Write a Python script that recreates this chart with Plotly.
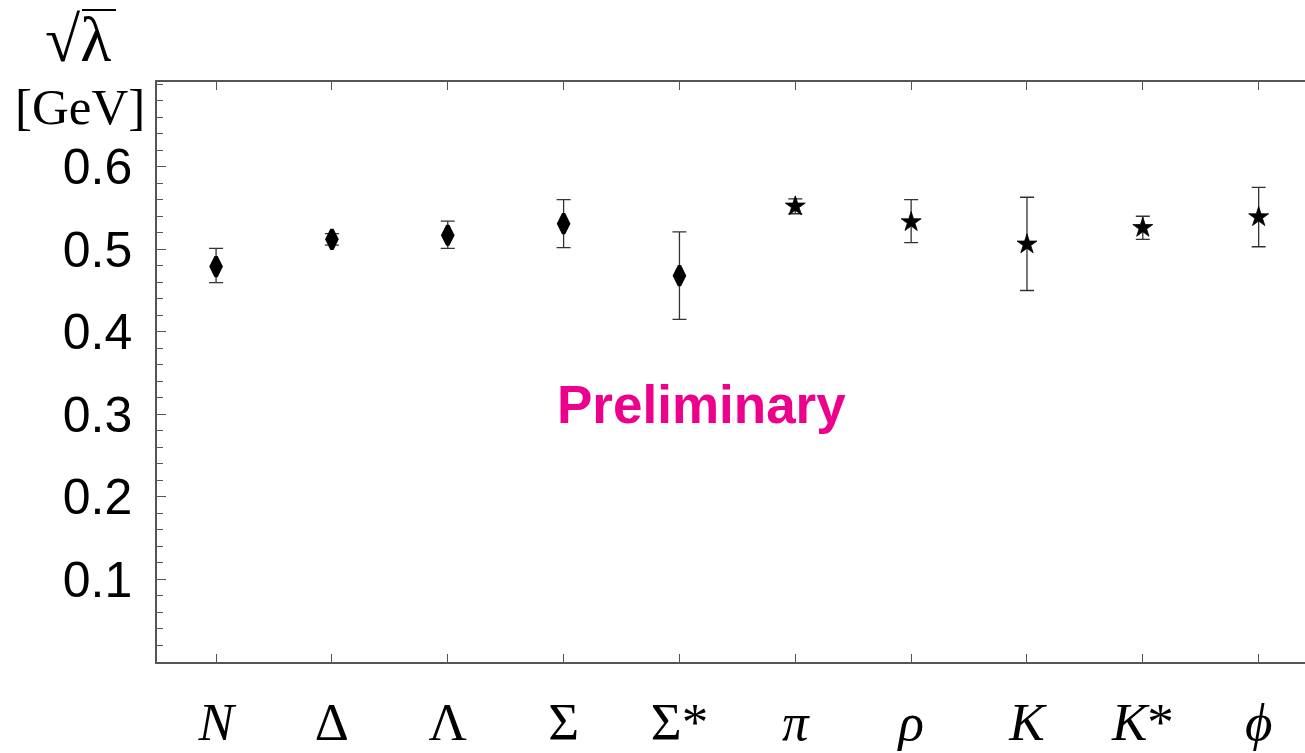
import plotly.graph_objects as go

categories = ["N", "Delta", "Lambda", "Sigma", "Sigma*", "pi", "rho", "K", "K*", "phi"]
tick_labels = ["<i>N</i>", "Δ", "Λ", "Σ", "Σ*", "<i>π</i>", "<i>ρ</i>", "<i>K</i>", "<i>K</i>*", "<i>ϕ</i>"]
baryons = ["N", "Delta", "Lambda", "Sigma", "Sigma*"]
mesons = ["pi", "rho", "K", "K*", "phi"]

sqrt_lambda = [0.479, 0.512, 0.517, 0.531, 0.468, 0.552, 0.533, 0.506, 0.526, 0.539]
upper = [0.501, 0.519, 0.534, 0.560, 0.521, 0.561, 0.560, 0.563, 0.540, 0.575]
lower = [0.4595, 0.505, 0.501, 0.502, 0.415, 0.543, 0.508, 0.450, 0.512, 0.503]

y_tickvals = [0.1, 0.2, 0.3, 0.4, 0.5, 0.6]
y_ticktext = ["0.1", "0.2", "0.3", "0.4", "0.5", "0.6"]

W, H = 1305, 753
L, R, T, B = 157, 0, 82, 91


def subset(names):
    idx = [categories.index(n) for n in names]
    xs = [categories[i] for i in idx]
    ys = [sqrt_lambda[i] for i in idx]
    up = [upper[i] - sqrt_lambda[i] for i in idx]
    dn = [sqrt_lambda[i] - lower[i] for i in idx]
    return xs, ys, up, dn


fig = go.Figure()
err_style = dict(type="data", symmetric=False, color="#333333", thickness=1.3, width=7)

xb, yb, ub, db = subset(baryons)
fig.add_trace(go.Scatter(
    x=xb, y=yb, mode="markers",
    marker=dict(symbol="diamond-tall", size=14, color="black", line=dict(color="black", width=3.5)),
    error_y=dict(array=ub, arrayminus=db, **err_style),
    showlegend=False,
))
xm, ym, um, dm = subset(mesons)
fig.add_trace(go.Scatter(
    x=xm, y=ym, mode="markers",
    marker=dict(symbol="star", size=15, color="black", line=dict(color="black", width=0.8)),
    error_y=dict(array=um, arrayminus=dm, **err_style),
    showlegend=False,
))

axis_color = "#555555"
fig.update_xaxes(
    type="category", categoryorder="array", categoryarray=categories,
    tickvals=categories, ticktext=tick_labels,
    range=[-0.51, 9.40],
    showline=True, linecolor=axis_color, linewidth=1.5, mirror="ticks",
    ticks="inside", ticklen=8, tickwidth=1.2, tickcolor=axis_color,
    tickfont=dict(family="Liberation Serif", size=53, color="black"),
    ticklabelstandoff=13, automargin=False,
    showgrid=False, zeroline=False,
)
fig.update_yaxes(
    range=[0, 0.7026],
    tickvals=y_tickvals, ticktext=y_ticktext,
    showline=True, linecolor=axis_color, linewidth=1.5, mirror=False,
    ticks="inside", ticklen=9, tickwidth=1.2, tickcolor=axis_color,
    minor=dict(tickmode="linear", tick0=0, dtick=0.02, ticks="inside", ticklen=6,
               tickwidth=1.0, tickcolor=axis_color, showgrid=False),
    tickfont=dict(family="Liberation Sans", size=50, color="black"),
    ticklabelstandoff=13, automargin=False,
    showgrid=False, zeroline=False,
)


def px_to_paper_x(px):
    return (px - L) / (W - L - R)


def px_to_paper_y(py):
    return (H - B - py) / (H - T - B)


fig.add_annotation(
    x=4.19, y=0.312, xref="x", yref="y", text="<b>Preliminary</b>", showarrow=False,
    font=dict(family="Liberation Sans", size=53, color="#EC008C"),
    xanchor="center", yanchor="middle",
)
fig.add_annotation(
    x=px_to_paper_x(80), y=px_to_paper_y(107), xref="paper", yref="paper",
    text="[GeV]", showarrow=False,
    font=dict(family="Liberation Serif", size=51, color="black"),
    xanchor="center", yanchor="middle",
)
fig.add_annotation(
    x=px_to_paper_x(78), y=px_to_paper_y(40), xref="paper", yref="paper",
    text="√λ", showarrow=False,
    font=dict(family="Liberation Serif", size=64, color="black"),
    xanchor="center", yanchor="middle",
)
fig.add_shape(
    type="line", xref="paper", yref="paper",
    x0=px_to_paper_x(82), x1=px_to_paper_x(116),
    y0=px_to_paper_y(10), y1=px_to_paper_y(10),
    line=dict(color="black", width=1.8),
)

fig.update_layout(
    width=W, height=H,
    margin=dict(l=L, r=R, t=T, b=B),
    paper_bgcolor="white", plot_bgcolor="white",
)

fig.write_html("out.html")
